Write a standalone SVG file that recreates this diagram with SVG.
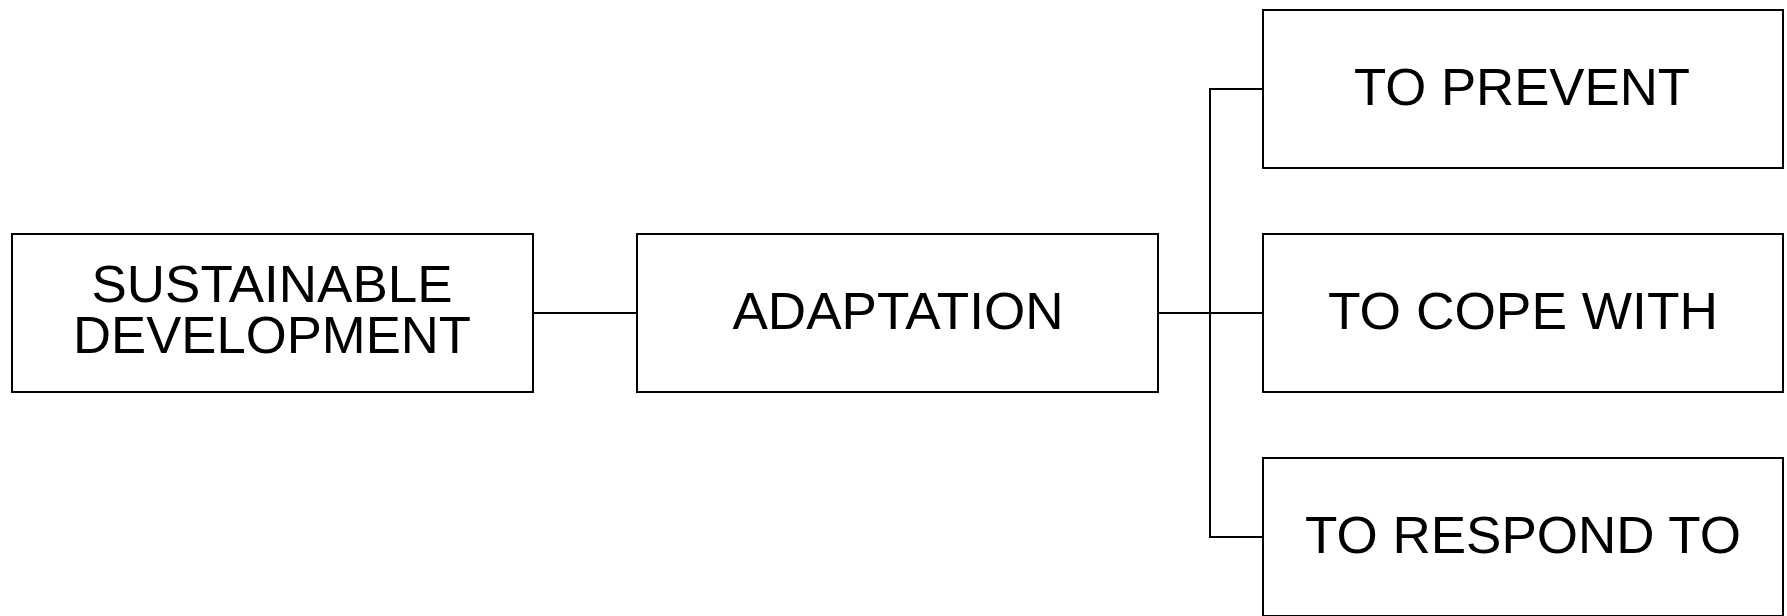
<svg xmlns="http://www.w3.org/2000/svg" width="1787" height="616" viewBox="0 0 1787 616">
  <style>
    .box { fill: #ffffff; stroke: #000000; stroke-width: 2; }
    .wire { fill: none; stroke: #000000; stroke-width: 2; }
    .label { font-family: "Liberation Sans", Arial, sans-serif; font-size: 51px; fill: #000000; text-anchor: middle; }
  </style>
  <rect width="1787" height="616" fill="#ffffff"/>
  <g id="connectors">
    <path class="wire" d="M533 313 H637"/>
    <path class="wire" d="M1158 313 H1263"/>
    <path class="wire" d="M1263 89 H1210 V537 H1263"/>
  </g>
  <g id="sustainable-development">
    <rect class="box" x="12" y="234" width="521" height="158"/>
    <text class="label" x="272" y="302" textLength="361" lengthAdjust="spacingAndGlyphs">SUSTAINABLE</text>
    <text class="label" x="272" y="353" textLength="398" lengthAdjust="spacingAndGlyphs">DEVELOPMENT</text>
  </g>
  <g id="adaptation">
    <rect class="box" x="637" y="234" width="521" height="158"/>
    <text class="label" x="898" y="329" textLength="331" lengthAdjust="spacingAndGlyphs">ADAPTATION</text>
  </g>
  <g id="to-prevent">
    <rect class="box" x="1263" y="10" width="520" height="158"/>
    <text class="label" x="1522" y="105" textLength="336" lengthAdjust="spacingAndGlyphs">TO PREVENT</text>
  </g>
  <g id="to-cope-with">
    <rect class="box" x="1263" y="234" width="520" height="158"/>
    <text class="label" x="1523" y="329" textLength="390" lengthAdjust="spacingAndGlyphs">TO COPE WITH</text>
  </g>
  <g id="to-respond-to">
    <rect class="box" x="1263" y="458" width="520" height="158"/>
    <text class="label" x="1523" y="553" textLength="436" lengthAdjust="spacingAndGlyphs">TO RESPOND TO</text>
  </g>
</svg>
